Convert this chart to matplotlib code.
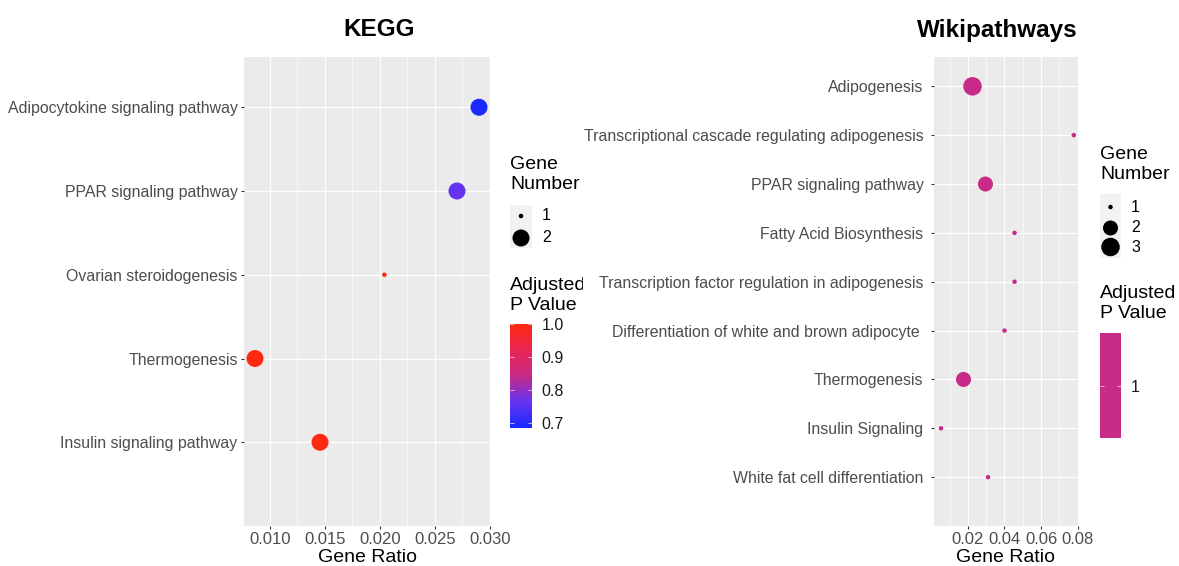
import numpy as np
import matplotlib
matplotlib.use("Agg")
import matplotlib.pyplot as plt
from matplotlib.colors import LinearSegmentedColormap

plt.rcParams['font.family'] = ['Liberation Sans', 'DejaVu Sans']

# KEGG data
kegg_terms = ["Adipocytokine signaling pathway", "PPAR signaling pathway",
              "Ovarian steroidogenesis", "Thermogenesis", "Insulin signaling pathway"]
kegg_ratio = [0.0290, 0.0270, 0.0204, 0.00864, 0.01455]
kegg_count = [2, 2, 1, 2, 2]
kegg_padj = [0.688, 0.76, 1.0, 1.0, 1.0]

# Wikipathways data
wiki_terms = ["Adipogenesis", "Transcriptional cascade regulating adipogenesis",
              "PPAR signaling pathway", "Fatty Acid Biosynthesis",
              "Transcription factor regulation in adipogenesis",
              "Differentiation of white and brown adipocyte ",
              "Thermogenesis", "Insulin Signaling", "White fat cell differentiation"]
wiki_ratio = [0.0225, 0.0779, 0.0296, 0.0455, 0.0455, 0.0400, 0.0176, 0.0053, 0.0310]
wiki_count = [3, 1, 2, 1, 1, 1, 2, 1, 1]
wiki_padj = [1, 1, 1, 1, 1, 1, 1, 1, 1]

W, H = 1179, 566
fig = plt.figure(figsize=(W / 100, H / 100), dpi=100)

def box(x0, y0, x1, y1):
    return [x0 / W, 1 - y1 / H, (x1 - x0) / W, (y1 - y0) / H]

def s_of(px):
    return (0.72 * px) ** 2

cmap = LinearSegmentedColormap.from_list(
    "bluered", [(0, "#1B2BFF"), (0.25, "#6A34EE"), (0.5, "#C82A87"),
                (0.75, "#E92653"), (1, "#FF2A12")])
GREY_BG = "#EBEBEB"

def panel(rect, terms, ratio, count, cvals, size_px, xlim, xmaj, xmin, xfmt, ypad):
    ax = fig.add_axes(box(*rect))
    ax.set_facecolor(GREY_BG)
    for sp in ax.spines.values():
        sp.set_visible(False)
    y = np.arange(len(terms))
    ax.set_xlim(*xlim)
    ax.set_ylim(len(terms), -0.6)
    ax.set_xticks(xmaj)
    ax.set_xticklabels([xfmt % v for v in xmaj])
    ax.set_xticks(xmin, minor=True)
    ax.set_yticks(y)
    ax.set_yticklabels(terms)
    ax.grid(True, which='major', color='white', lw=0.9)
    ax.grid(True, which='minor', axis='x', color='white', lw=0.45)
    ax.set_axisbelow(True)
    ax.tick_params(which='major', length=2.5, width=0.8, color='#333333',
                   labelcolor='#4D4D4D')
    ax.tick_params(axis='x', labelsize=12, pad=2)
    ax.tick_params(axis='y', labelsize=11.4, pad=ypad)
    ax.tick_params(which='minor', length=0)
    ax.scatter(ratio, y, s=[s_of(size_px[c]) for c in count], c=cvals,
               cmap=cmap, vmin=0.688, vmax=1.0, edgecolors='none', zorder=3)
    return ax

# KEGG panel
ax1 = panel((244, 57, 490, 526), kegg_terms, kegg_ratio, kegg_count, kegg_padj,
            {1: 4.5, 2: 17}, (0.00764, 0.0300),
            [0.010, 0.015, 0.020, 0.025, 0.030], [0.0125, 0.0175, 0.0225, 0.0275],
            "%.3f", 2)
# Wiki panel: single p value -> middle colour of the gradient
wiki_c = [0.688 + 0.5 * (1.0 - 0.688)] * len(wiki_padj)
ax2 = panel((934, 57, 1078, 526), wiki_terms, wiki_ratio, wiki_count, wiki_c,
            {1: 4.5, 2: 15, 3: 18.5}, (0.00145, 0.0802),
            [0.02, 0.04, 0.06, 0.08], [0.01, 0.03, 0.05, 0.07], "%.2f", 5)

fig.text(379 / W, 1 - 30 / H, "KEGG", fontsize=17.5, fontweight='bold',
         ha='center', va='center')
fig.text(997 / W, 1 - 30 / H, "Wikipathways", fontsize=17.5, fontweight='bold',
         ha='center', va='center')
fig.text(367 / W, 1 - 557 / H, "Gene Ratio", fontsize=14, ha='center', va='center')
fig.text(1006 / W, 1 - 557 / H, "Gene Ratio", fontsize=14, ha='center', va='center')

def legend(x0, clip_x1, title_y, key_rect, key_levels, key_ys, size_px,
           ctitle_y, cbar_rect, cbar_ticks, cbar_labels, cbar_range, solid=None):
    # legend area in pixel units, texts clipped like in the source
    lax = fig.add_axes(box(x0 - 10, 0, clip_x1, H))
    lax.set_xlim(x0 - 10, clip_x1)
    lax.set_ylim(H, 0)
    lax.axis('off')
    lax.text(x0, title_y, "Gene\nNumber", fontsize=14, va='top', ha='left',
             linespacing=1.2, clip_on=True)
    lax.text(x0, ctitle_y, "Adjusted\nP Value", fontsize=14, va='top', ha='left',
             linespacing=1.2, clip_on=True)
    kx0, ky0, kx1, ky1 = key_rect
    lax.add_patch(plt.Rectangle((kx0, ky0), kx1 - kx0, ky1 - ky0,
                                facecolor="#F2F2F2", edgecolor='none'))
    lax.scatter([(kx0 + kx1) / 2] * len(key_levels), key_ys,
                s=[s_of(size_px[k]) for k in key_levels], c='black',
                edgecolors='none', zorder=3)
    for k, yy in zip(key_levels, key_ys):
        lax.text(kx1 + 10, yy, str(k), fontsize=11.5, va='center', ha='left')
    # colour bar
    cax = fig.add_axes(box(*cbar_rect))
    vmin, vmax = cbar_range
    if solid is None:
        grad = np.linspace(vmin, vmax, 256)[:, None]
        cax.imshow(grad, aspect='auto', cmap=cmap, origin='lower',
                   extent=[0, 1, vmin, vmax], vmin=0.688, vmax=1.0)
    else:
        cax.imshow([[0]], aspect='auto', cmap=LinearSegmentedColormap.from_list(
            "s", [solid, solid]), extent=[0, 1, vmin, vmax])
    cax.set_xlim(0, 1)
    cax.set_ylim(vmin, vmax)
    cax.set_xticks([])
    cax.set_yticks(cbar_ticks)
    cax.set_yticklabels(cbar_labels)
    cax.tick_params(axis='y', direction='in', length=3, width=0.6, color='#F4C8DA',
                    left=True, right=True, labelleft=False, labelright=True,
                    labelcolor='#1A1A1A', labelsize=11.5, pad=7)
    for sp in cax.spines.values():
        sp.set_visible(False)

legend(510, 583, 156, (510, 205, 532, 248), [1, 2], [216, 238], {1: 4.5, 2: 17},
       277, (510, 324, 532, 428), [0.7, 0.8, 0.9, 1.0],
       ["0.7", "0.8", "0.9", "1.0"], (0.685, 1.0))
legend(1100, 1179, 146, (1100, 194, 1121, 258), [1, 2, 3], [207, 228, 247],
       {1: 4.5, 2: 15, 3: 18.5}, 285, (1100, 333, 1121, 438), [1.0], ["1"],
       (0.5, 1.5), solid="#C82A87")

fig.savefig("out.png", dpi=100)
